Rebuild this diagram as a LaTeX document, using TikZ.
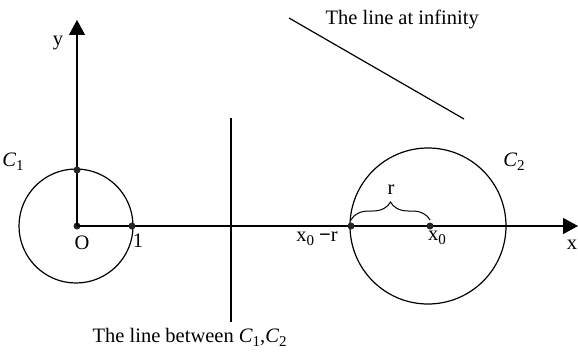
\documentclass[tikz,border=0pt]{standalone}
\usepackage{fontspec}
\setmainfont{Liberation Serif}
\usetikzlibrary{arrows.meta,decorations.pathreplacing}
\newcommand\dn[1]{\raisebox{-0.45ex}{\fontsize{15}{15}\selectfont #1}}
\begin{document}
\begin{tikzpicture}[x=1pt,y=-1pt,line width=1.2pt,
  lbl/.style={font=\fontsize{20.5}{24}\selectfont,inner sep=0pt},
  dot/.style={circle,fill=black!85,inner sep=0pt,minimum size=7pt},
  axis/.style={-{Triangle[length=15pt,width=16pt]}},
  circ/.style={draw,circle,inner sep=0pt}]
\useasboundingbox (0,0) rectangle (578,353);
% axes
\node[dot] (O) at (77,226) {};
\coordinate (xend) at (578,226);
\coordinate (yend) at (77,20);
\draw[axis] (O.center) -- (xend);
\draw[axis] (O.center) -- (yend);
% circles
\node[circ,minimum size=114pt] (C1) at (76,226) {};
\node[circ,minimum size=156pt] (C2) at (428,226) {};
% dots
\node[dot] (top1) at (77,170) {};
\node[dot] (one) at (132,226) {};
\node[dot] (x0r) at (351,226) {};
\node[dot] (x0) at (430,226) {};
% brace
\coordinate (bl) at (351,220);
\coordinate (br) at (430,220);
\draw[line width=1pt,decorate,decoration={brace,amplitude=18pt}] (bl) -- (br);
% lines
\coordinate (vt) at (231,118);
\coordinate (vb) at (231,322);
\draw (vt) -- (vb);
\coordinate (it) at (289,18);
\coordinate (ib) at (464,119);
\draw (it) -- (ib);
% labels
\node[lbl] (ly) at (58,43) {y};
\node[lbl] (lC1) at (13,162) {\textit{C}\dn{1}};
\node[lbl] (lO) at (82,243) {O};
\node[lbl] (l1) at (138,241) {1};
\node[lbl,anchor=base] (lx0r) at (317,241) {x\dn{0} \textbf{−}r};
\node[lbl] (lr) at (391,190) {r};
\node[lbl] (lx0) at (437,238) {x\dn{0}};
\node[lbl] (lx) at (572,245) {x};
\node[lbl] (lC2) at (514,162) {\textit{C}\dn{2}};
\node[lbl,anchor=base west] (linf) at (325,25) {The line at infinity};
\node[lbl,anchor=base west] (lbet) at (92,342) {The line between \textit{C}\dn{1},\textit{C}\dn{2}};
\end{tikzpicture}
\end{document}
